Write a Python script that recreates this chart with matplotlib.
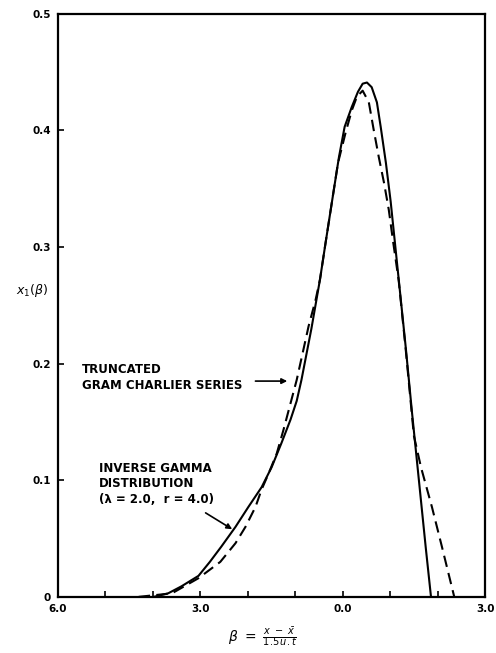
"""Inverse gamma density against its truncated Gram-Charlier approximation."""

import matplotlib
matplotlib.use("Agg")
import matplotlib.pyplot as plt

# Values.
# Inverse gamma distribution (solid curve).
gamma_beta = [-3.98, -3.68, -3.40, -3.04, -2.80, -2.56, -2.26, -1.99, -1.71,
              -1.50, -1.29, -1.10, -0.97, -0.87, -0.66, -0.48, -0.36, -0.23,
              -0.08, 0.04, 0.19, 0.32, 0.42, 0.51, 0.61, 0.72, 0.80, 0.91,
              1.01, 1.17, 1.33, 1.46, 1.61, 1.75, 1.86]
gamma_x1 = [0.0, 0.003, 0.009, 0.018, 0.030, 0.043, 0.060, 0.077, 0.094,
            0.111, 0.132, 0.152, 0.168, 0.186, 0.230, 0.272, 0.304, 0.338,
            0.377, 0.403, 0.420, 0.433, 0.440, 0.441, 0.437, 0.424, 0.403,
            0.372, 0.339, 0.276, 0.213, 0.158, 0.098, 0.042, 0.0]

# Truncated Gram-Charlier series (dashed curve).
gram_beta = [-4.30, -3.60, -3.04, -2.58, -2.26, -2.05, -1.84, -1.71, -1.56,
             -1.39, -1.25, -1.10, -0.97, -0.72, -0.57, -0.48, -0.36, -0.23,
             -0.10, 0.06, 0.19, 0.30, 0.42, 0.55, 0.65, 0.76, 0.87, 0.97,
             1.06, 1.18, 1.33, 1.50, 1.65, 1.88, 2.09, 2.35]
gram_x1 = [0.0, 0.003, 0.016, 0.030, 0.046, 0.060, 0.077, 0.092, 0.106,
           0.123, 0.143, 0.166, 0.186, 0.232, 0.255, 0.272, 0.304, 0.338,
           0.372, 0.398, 0.417, 0.429, 0.434, 0.424, 0.401, 0.377, 0.355,
           0.332, 0.305, 0.271, 0.211, 0.138, 0.111, 0.077, 0.043, 0.0]

x_ticks = [-6.0, -3.0, 0.0, 3.0]
x_tick_labels = ["6.0", "3.0", "0.0", "3.0"]
x_minor_ticks = [-5.0, -4.0, -2.0, -1.0, 1.0, 2.0]
y_ticks = [0.0, 0.1, 0.2, 0.3, 0.4, 0.5]
y_tick_labels = ["0", "0.1", "0.2", "0.3", "0.4", "0.5"]

fig = plt.figure(figsize=(4.96, 6.53), dpi=100)
ax = fig.add_axes([0.117, 0.086, 0.861, 0.893])

ax.plot(gamma_beta, gamma_x1, color="black", linewidth=1.5,
        solid_joinstyle="round", solid_capstyle="round")
ax.plot(gram_beta, gram_x1, color="black", linewidth=1.5,
        linestyle=(0, (5.5, 3)), dash_joinstyle="round")

ax.set_xlim(-6.0, 3.0)
ax.set_ylim(0.0, 0.5)

# Ticks point inwards, labels only every 3 units.
ax.set_xticks(x_ticks)
ax.set_xticklabels(x_tick_labels)
ax.set_xticks(x_minor_ticks, minor=True)
ax.set_yticks(y_ticks)
ax.set_yticklabels(y_tick_labels)
ax.tick_params(axis="both", which="both", direction="in", length=4.5, width=1.2,
               labelsize=7.5, pad=5)
ax.tick_params(axis="y", which="both", left=True, right=False)
ax.tick_params(axis="x", which="both", bottom=True, top=False)
for lab in ax.get_xticklabels() + ax.get_yticklabels():
    lab.set_fontweight("bold")

for spine in ax.spines.values():
    spine.set_linewidth(1.6)

# Axis labels.
ax.set_ylabel(r"$x_1(\beta)$", rotation=0, fontsize=9, labelpad=4)
ax.yaxis.set_label_coords(-0.06, 0.51)
ax.set_xlabel(r"$\beta\ =\ \frac{x\ -\ \bar{x}}{1.5\,u.t}$", fontsize=10, labelpad=4)
ax.xaxis.set_label_coords(0.48, -0.05)

# Curve annotations.
ax.text(-5.50, 0.188, "TRUNCATED\nGRAM CHARLIER SERIES", ha="left", va="center",
        fontsize=8.5, fontweight="bold", linespacing=1.25)
ax.annotate("", xy=(-1.17, 0.185), xytext=(-1.84, 0.185),
            arrowprops=dict(arrowstyle="-|>", color="black", lw=1.2,
                            mutation_scale=8, shrinkA=0, shrinkB=0))

ax.text(-5.14, 0.097, "INVERSE GAMMA\nDISTRIBUTION\n(\u03bb = 2.0,  r = 4.0)",
        ha="left", va="center", fontsize=8.5, fontweight="bold", linespacing=1.25)
ax.annotate("", xy=(-2.33, 0.058), xytext=(-2.89, 0.072),
            arrowprops=dict(arrowstyle="-|>", color="black", lw=1.2,
                            mutation_scale=8, shrinkA=0, shrinkB=0))

fig.savefig("out.png", dpi=100)
